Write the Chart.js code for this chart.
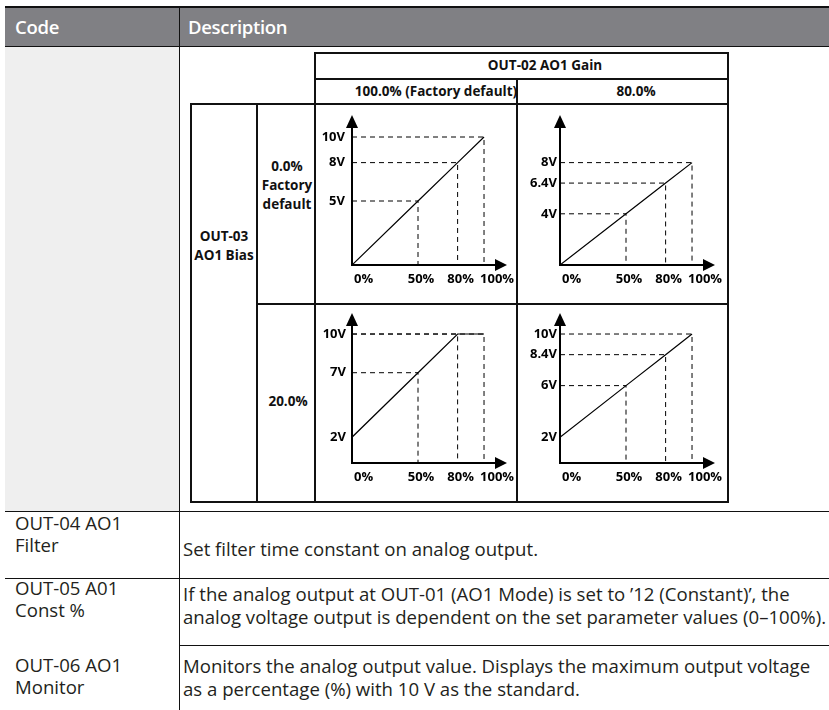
<!DOCTYPE html>
<html lang="en">
<head>
  <meta charset="UTF-8">
  <title>AO1 Gain / Bias</title>
  <style>
    html, body { margin: 0; padding: 0; background: #fff; }
    body { width: 829px; height: 710px; position: relative; overflow: hidden; font-family: 'Open Sans', sans-serif; color: #231f20; }
    .abs { position: absolute; }
    .hdr { left: 5px; top: 6px; width: 824px; height: 40px; background: #808084; border-top: 2px solid #111; box-sizing: border-box; }
    .hdr-txt { color: #fff; font-weight: 600; font-size: 18.5px; top: 15px; line-height: 24px; letter-spacing: -0.3px; }
    .codecell { left: 5px; top: 47px; width: 174px; height: 464px; background: #efefef; }
    .ol { background: #111; }
    .il { background: #111; }
    .t { font-weight: 700; font-size: 13.5px; text-align: center; line-height: 19px; color: #111; }
    .body-txt { font-size: 18.6px; line-height: 22.5px; white-space: nowrap; }
    canvas { position: absolute; }
  </style>
  <script src="https://cdn.jsdelivr.net/npm/chart.js"></script>
</head>
<body>
  <!-- outer table -->
  <div class="abs hdr"></div>
  <div class="abs hdr-txt" style="left:15px">Code</div>
  <div class="abs hdr-txt" style="left:188px">Description</div>
  <div class="abs codecell"></div>
  <div class="abs ol" style="left:5px;top:46px;width:824px;height:1px"></div>
  <div class="abs ol" style="left:179px;top:8px;width:1px;height:702px"></div>
  <div class="abs ol" style="left:5px;top:511px;width:824px;height:1px"></div>
  <div class="abs ol" style="left:5px;top:578px;width:824px;height:1px"></div>
  <div class="abs ol" style="left:179px;top:645px;width:650px;height:1px"></div>

  <!-- inner table lines -->
  <div class="abs il" style="left:315px;top:52px;width:414px;height:2px"></div>
  <div class="abs il" style="left:315px;top:78px;width:414px;height:2px"></div>
  <div class="abs il" style="left:190px;top:103px;width:539px;height:2px"></div>
  <div class="abs il" style="left:256px;top:303px;width:473px;height:2px"></div>
  <div class="abs il" style="left:190px;top:501px;width:539px;height:2px"></div>
  <div class="abs il" style="left:190px;top:103px;width:2px;height:400px"></div>
  <div class="abs il" style="left:256px;top:103px;width:2px;height:400px"></div>
  <div class="abs il" style="left:314px;top:52px;width:2px;height:451px"></div>
  <div class="abs il" style="left:516px;top:78px;width:2px;height:425px"></div>
  <div class="abs il" style="left:727px;top:52px;width:2px;height:451px"></div>

  <!-- inner table text -->
  <div class="abs t" style="left:445px;top:56px;width:200px">OUT-02 AO1 Gain</div>
  <div class="abs t" style="left:336px;top:82px;width:200px">100.0% (Factory default)</div>
  <div class="abs t" style="left:586px;top:82px;width:100px">80.0%</div>
  <div class="abs t" style="left:247px;top:157px;width:80px">0.0%<br>Factory<br>default</div>
  <div class="abs t" style="left:184px;top:227px;width:80px">OUT-03<br>AO1 Bias</div>
  <div class="abs t" style="left:248px;top:392px;width:80px">20.0%</div>

  <canvas id="c1" width="200" height="198" style="left:316px;top:105px"></canvas>
  <canvas id="c2" width="209" height="198" style="left:518px;top:105px"></canvas>
  <canvas id="c3" width="200" height="196" style="left:316px;top:305px"></canvas>
  <canvas id="c4" width="209" height="196" style="left:518px;top:305px"></canvas>

  <!-- lower rows -->
  <div class="abs body-txt" style="left:15px;top:512px;line-height:21.7px">OUT-04 AO1<br>Filter</div>
  <div class="abs body-txt" style="left:183px;top:538px">Set filter time constant on analog output.</div>
  <div class="abs body-txt" style="left:15px;top:577px;line-height:21.7px">OUT-05 A01<br>Const %</div>
  <div class="abs body-txt" style="left:183px;top:583px">If the analog output at OUT-01 (AO1 Mode) is set to ’12 (Constant)’, the<br>analog voltage output is dependent on the set parameter values (0–100%).</div>
  <div class="abs body-txt" style="left:15px;top:654px;line-height:21.7px">OUT-06 AO1<br>Monitor</div>
  <div class="abs body-txt" style="left:183px;top:655px">Monitors the analog output value. Displays the maximum output voltage<br>as a percentage (%) with 10 V as the standard.</div>

  <script>
    // input (%) positions marked on each graph
    const pctTicks = [0, 50, 80, 100];
    // output voltage (V) at those inputs
    const gain100Bias0 = [0, 5, 8, 10];
    const gain80Bias0 = [0, 4, 6.4, 8];
    const gain100Bias20 = [2, 7, 10, 10];
    const gain80Bias20 = [2, 6, 8.4, 10];

    const labelFont = 'bold 13px "Open Sans"';

    // axes with arrow heads + tick labels
    const axisPlugin = {
      id: 'arrowAxes',
      afterDatasetsDraw(chart, args, opts) {
        const ctx = chart.ctx;
        const xs = chart.scales.x, ys = chart.scales.y;
        const x0 = xs.getPixelForValue(0), y0 = ys.getPixelForValue(0);
        const top = chart.chartArea.top, right = chart.chartArea.right;
        ctx.save();
        ctx.strokeStyle = '#000';
        ctx.fillStyle = '#000';
        ctx.lineWidth = 2;
        ctx.beginPath();
        ctx.moveTo(x0, y0 + 1);
        ctx.lineTo(x0, top + 10);
        ctx.moveTo(x0 - 1, y0);
        ctx.lineTo(right - 10, y0);
        ctx.stroke();
        ctx.beginPath();
        ctx.moveTo(x0, top);
        ctx.lineTo(x0 - 6, top + 13);
        ctx.lineTo(x0 + 6, top + 13);
        ctx.closePath();
        ctx.fill();
        ctx.beginPath();
        ctx.moveTo(right, y0);
        ctx.lineTo(right - 12, y0 - 6);
        ctx.lineTo(right - 12, y0 + 6);
        ctx.closePath();
        ctx.fill();

        ctx.font = labelFont;
        ctx.textBaseline = 'middle';
        ctx.textAlign = 'right';
        opts.yValues.forEach(v => {
          ctx.fillText(v + 'V', x0 - opts.gap, ys.getPixelForValue(v));
        });
        ctx.textAlign = 'left';
        pctTicks.forEach((p, i) => {
          const px = xs.getPixelForValue(p);
          const w = ctx.measureText(p + '%').width;
          let lx;
          if (i === 0) lx = px + 2;
          else if (i === pctTicks.length - 1) lx = px - 4;
          else lx = px + 3 - w / 2;
          ctx.fillText(p + '%', lx, y0 + 14);
        });
        ctx.restore();
      }
    };

    function drawGraph(id, vals, yMax, pad, gap) {
      const datasets = [];
      pctTicks.forEach((p, i) => {
        if (p === 0) return;
        datasets.push({
          data: [{x: 0, y: vals[i]}, {x: p, y: vals[i]}, {x: p, y: 0}],
          borderColor: '#000',
          borderWidth: 1,
          borderDash: [5, 4],
          pointRadius: 0
        });
      });
      datasets.push({
        data: pctTicks.map((p, i) => ({x: p, y: vals[i]})),
        borderColor: '#000',
        borderWidth: 1.2,
        pointRadius: 0
      });
      const yValues = [...new Set(vals.filter(v => v > 0))];
      new Chart(document.getElementById(id), {
        type: 'line',
        data: { datasets },
        options: {
          responsive: false,
          animation: false,
          devicePixelRatio: 1,
          layout: { padding: pad },
          scales: {
            x: { type: 'linear', min: 0, max: 117.4, display: false },
            y: { min: 0, max: yMax, display: false }
          },
          plugins: {
            legend: { display: false },
            tooltip: { enabled: false },
            arrowAxes: { yValues, gap }
          }
        },
        plugins: [axisPlugin]
      });
    }

    drawGraph('c1', gain100Bias0, 11.72, {left: 36, top: 10, right: 9, bottom: 38}, 7);
    drawGraph('c2', gain80Bias0, 11.72, {left: 42, top: 10, right: 12, bottom: 38}, 3);
    drawGraph('c3', gain100Bias20, 11.63, {left: 36, top: 8, right: 9, bottom: 38}, 6);
    drawGraph('c4', gain80Bias20, 11.63, {left: 42, top: 8, right: 12, bottom: 38}, 3);
  </script>
</body>
</html>
